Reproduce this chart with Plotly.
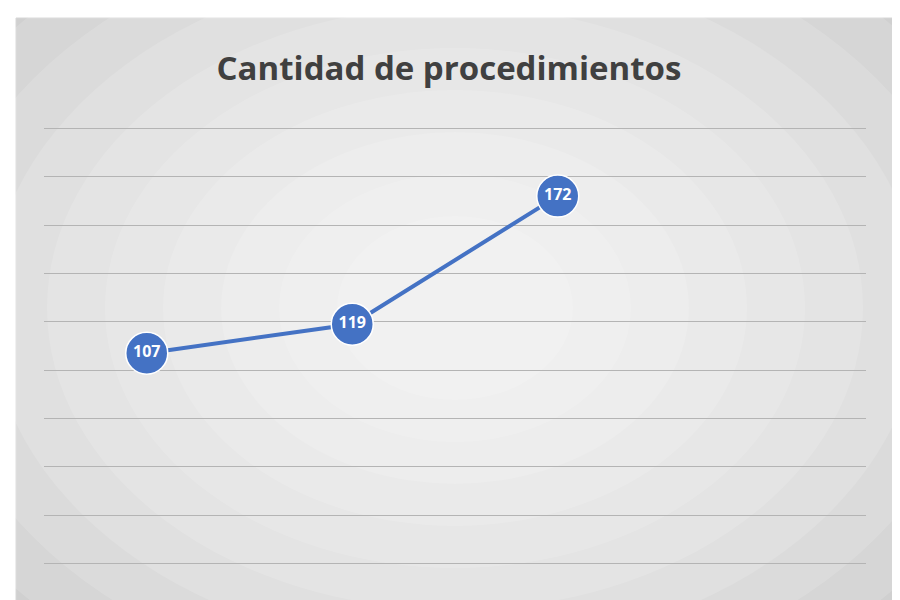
import plotly.graph_objects as go

categories = [0, 1, 2, 3]
values = [107, 119, 172, None]
labels = ["107", "119", "172", ""]

TITLE = "Cantidad de procedimientos"
C_LINE = "#4472C4"
FONT = "Open Sans, Liberation Sans, sans-serif"

# plot area in pixels: x 36..858, y 118..600
PX_L, PX_W, PX_T, PX_H = 36, 822, 118, 482


def px_x(p):
    return (p - PX_L) / PX_W


def px_y(p):
    return (PX_T + PX_H - p) / PX_H


fig = go.Figure()
fig.add_trace(go.Scatter(
    x=categories, y=values, text=labels,
    mode="lines+markers+text",
    line=dict(color=C_LINE, width=4),
    marker=dict(size=42, color=C_LINE, line=dict(color="white", width=1.5)),
    textposition="middle center",
    textfont=dict(family=FONT, size=16, color="white", weight="bold"),
    hoverinfo="skip",
    showlegend=False,
    cliponaxis=False,
))

# frame + radial-ish gradient
shapes = [dict(type="rect", xref="paper", yref="paper",
               x0=px_x(8), x1=px_x(888), y0=px_y(598), y1=px_y(10),
               fillcolor="#c9c9c9", line=dict(color="#d0d0d0", width=1),
               layer="below")]
cx, cy = 447, 300
for i in range(10):
    rx = 640 - i * 58
    ry = 470 - i * 42
    shapes.append(dict(type="circle", xref="paper", yref="paper",
                       x0=px_x(cx - rx), x1=px_x(cx + rx),
                       y0=px_y(cy + ry), y1=px_y(cy - ry),
                       fillcolor="rgba(255,255,255,0.14)", line=dict(width=0),
                       layer="below"))

fig.update_layout(
    width=900, height=600,
    margin=dict(l=PX_L, r=900 - PX_L - PX_W, t=PX_T, b=0),
    paper_bgcolor="white", plot_bgcolor="rgba(0,0,0,0)",
    shapes=shapes,
    title=dict(text=f"<b>{TITLE}</b>", x=0.49, xanchor="center",
               y=0.9, yanchor="middle",
               font=dict(family=FONT, size=33, color="#404040")),
)
fig.update_xaxes(range=[-0.5, 3.5], showgrid=False, zeroline=False,
                 showticklabels=False, showline=False)
fig.update_yaxes(range=[1.6, 201], tickvals=[20, 40, 60, 80, 100, 120, 140, 160, 180, 200],
                 showgrid=True, gridcolor="#b4b4b4", gridwidth=1,
                 zeroline=False, showticklabels=False, showline=False)

fig.write_html("out.html")
